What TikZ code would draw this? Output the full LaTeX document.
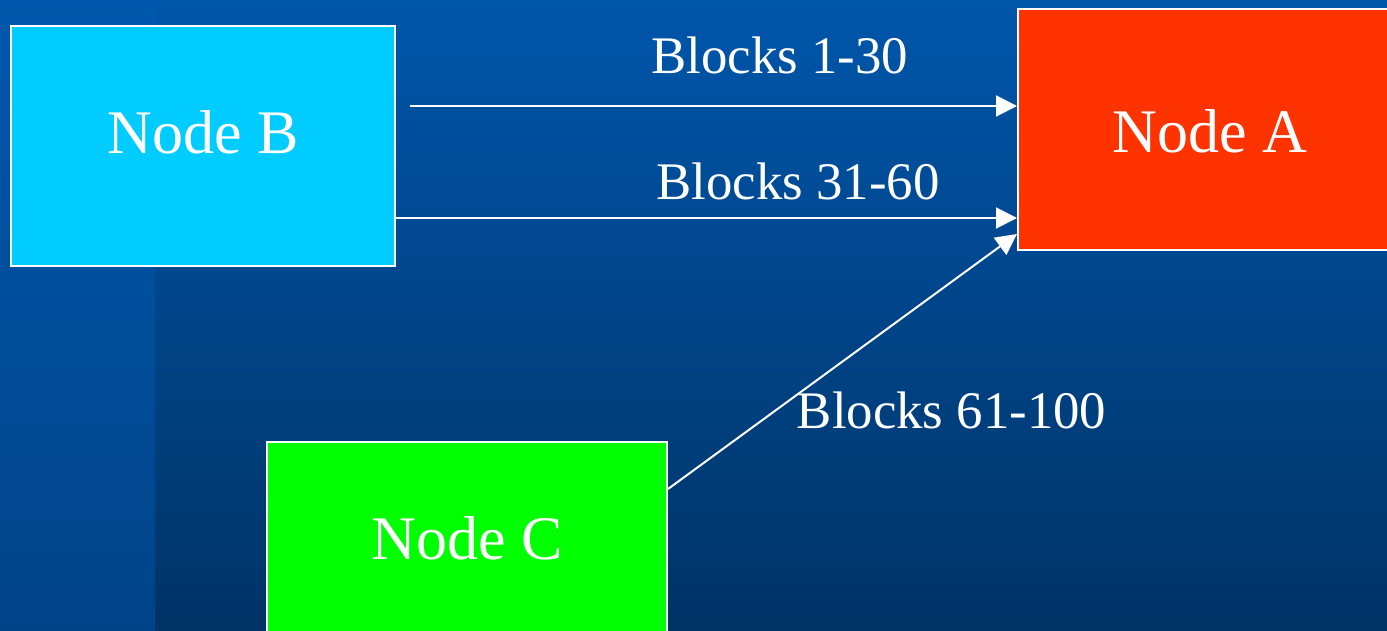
\documentclass[tikz,border=0pt]{standalone}
\usepackage{fontspec}
\setmainfont{Liberation Serif}
\usetikzlibrary{arrows.meta,positioning}
\definecolor{skyB}{HTML}{00CCFF}
\definecolor{redA}{HTML}{FF3300}
\definecolor{greenC}{HTML}{00FF00}
\definecolor{bgtop}{HTML}{0056AB}
\definecolor{bgbot}{HTML}{003366}
\definecolor{striptop}{HTML}{0058AE}
\definecolor{stripbot}{HTML}{004488}

\begin{document}
\begin{tikzpicture}[x=0.5pt,y=-0.5pt,
box/.style={draw=white,line width=1pt,minimum height=120pt,inner sep=0pt},
boxtxt/.style={text=white,inner sep=0pt,font=\fontsize{31}{36}\selectfont},
lbl/.style={text=white,inner sep=0pt,font=\fontsize{26.4}{30}\selectfont},
arr/.style={draw=white,line width=1pt,-{Triangle[length=10.5pt,width=10.5pt]}}
]
\useasboundingbox (0,0) rectangle (1387,631);
\clip (0,0) rectangle (1387,631);
% background
\shade[top color=bgtop,bottom color=bgbot] (0,0) rectangle (1387,631);
\shade[top color=striptop,bottom color=stripbot] (0,0) rectangle (155,631);

\node[box,fill=skyB,minimum width=192pt] (b) at (203,146) {};
\node[box,fill=redA,minimum width=192pt] (a) at (1210,129.5) {};
\node[box,fill=greenC,minimum width=200pt] (c) at (467,562) {};

\node[boxtxt] (bt) at (203,132.5) {Node B};
\node[boxtxt] (at) at (1210,131.5) {Node A};
\node[boxtxt] (ct) at (467,538.5) {Node C};

\coordinate (s1) at (410,106);
\coordinate (s2) at (b.east |- 0,218);
\coordinate (s3) at (c.east |- 0,489);
\coordinate (e3) at (a.west |- 0,234);
\draw[arr] (s1) -- (s1 -| a.west);
\draw[arr] (s2) -- (s2 -| a.west);
\draw[arr] (s3) -- (e3);

\node[lbl] (l1) at (780,55) {Blocks 1-30};
\node[lbl] (l2) at (798,181) {Blocks 31-60};
\node[lbl] (l3) at (951.5,410) {Blocks 61-100};
\end{tikzpicture}
\end{document}
